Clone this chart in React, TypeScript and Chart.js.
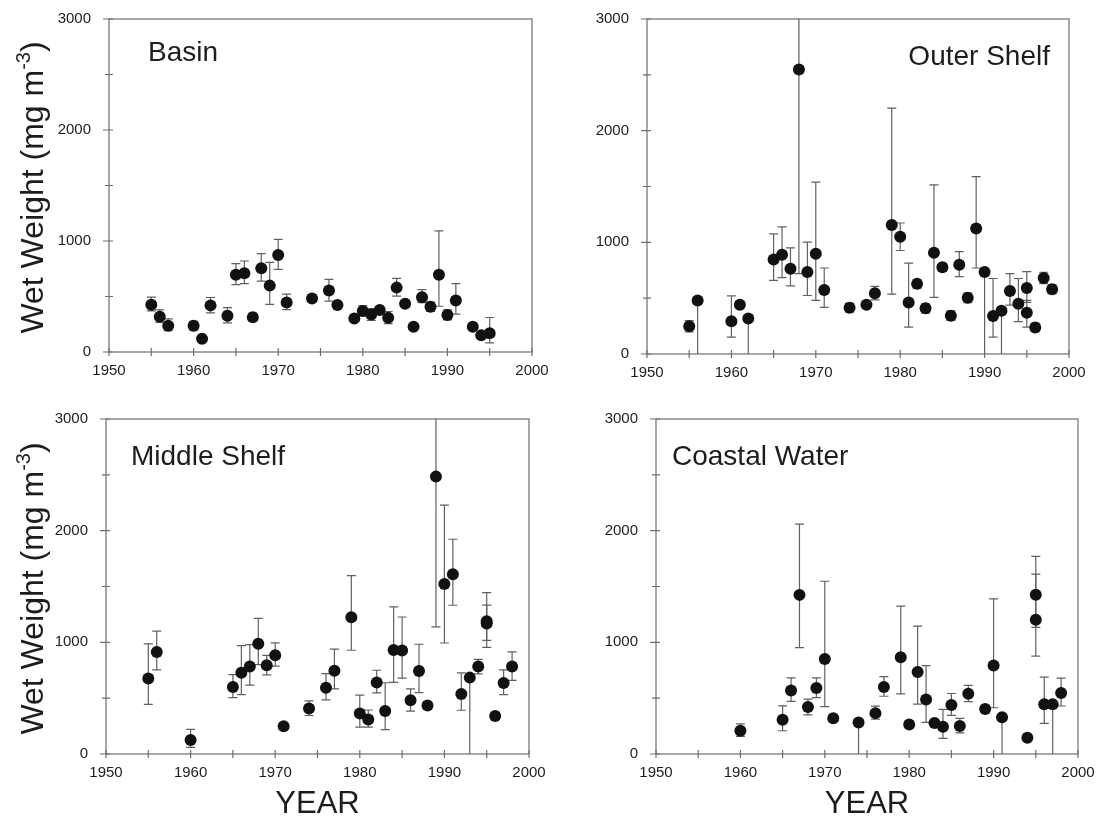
import React, { useEffect, useRef } from 'react';
import { Chart, registerables } from 'chart.js';

Chart.register(...registerables);

// ---------- DATA ----------
const basinYears = [1955, 1956, 1957, 1960, 1961, 1962, 1964, 1965, 1966, 1967, 1968, 1969, 1970, 1971, 1974, 1976, 1977, 1979, 1980, 1981, 1982, 1983, 1984, 1985, 1986, 1987, 1988, 1989, 1990, 1991, 1993, 1994, 1995];
const basinValues = [426, 317, 237, 237, 119, 420, 326, 695, 710, 314, 754, 598, 873, 447, 483, 554, 423, 302, 370, 337, 379, 308, 580, 435, 228, 494, 408, 695, 334, 465, 228, 151, 169];
const basinLow = [370, 266, 192, 197, 119, 352, 263, 607, 616, 280, 639, 429, 745, 381, 453, 458, 423, 302, 326, 285, 379, 255, 503, 435, 228, 444, 365, 412, 290, 341, 228, 151, 83];
const basinHigh = [494, 379, 298, 277, 119, 491, 400, 796, 820, 350, 887, 807, 1015, 521, 513, 654, 423, 302, 417, 392, 379, 365, 663, 435, 228, 562, 450, 1091, 380, 616, 228, 151, 311];

const outerYears = [1955, 1956, 1960, 1961, 1962, 1965, 1966, 1967, 1968, 1969, 1970, 1971, 1974, 1976, 1977, 1979, 1980, 1981, 1982, 1983, 1984, 1985, 1986, 1987, 1988, 1989, 1990, 1991, 1992, 1993, 1994, 1995, 1995, 1996, 1997, 1998];
const outerValues = [249, 480, 293, 441, 317, 847, 889, 764, 2548, 734, 898, 574, 414, 441, 545, 1156, 1049, 462, 628, 409, 907, 776, 343, 800, 503, 1123, 734, 340, 388, 565, 450, 592, 370, 237, 681, 580];
const outerLow = [199, -500, 151, 441, -500, 660, 684, 610, 720, 524, 480, 418, 374, 410, 485, 536, 927, 240, 590, 365, 507, 740, 300, 693, 460, 770, -500, 151, -500, 438, 290, 462, 240, 200, 630, 540];
const outerHigh = [299, 480, 521, 441, 317, 1075, 1138, 951, 3500, 1001, 1540, 770, 454, 472, 605, 2201, 1173, 814, 666, 450, 1514, 812, 386, 916, 546, 1588, 734, 676, 388, 720, 676, 738, 480, 274, 732, 620];

const middleYears = [1955, 1956, 1960, 1965, 1966, 1967, 1968, 1969, 1970, 1971, 1974, 1976, 1977, 1979, 1980, 1981, 1982, 1983, 1984, 1985, 1986, 1987, 1988, 1989, 1990, 1991, 1992, 1993, 1994, 1995, 1995, 1996, 1997, 1998];
const middleValues = [677, 914, 125, 600, 727, 784, 988, 795, 884, 249, 407, 594, 745, 1225, 362, 309, 641, 386, 932, 926, 481, 743, 434, 2484, 1522, 1609, 538, 684, 784, 1188, 1168, 341, 635, 784];
const middleLow = [445, 754, 60, 505, 532, 617, 801, 709, 787, 225, 345, 485, 584, 929, 240, 240, 548, 219, 641, 680, 384, 550, 400, 1139, 994, 1332, 392, -500, 718, 954, 1017, 310, 531, 659];
const middleHigh = [986, 1100, 220, 710, 971, 980, 1214, 884, 995, 275, 475, 720, 940, 1597, 528, 394, 750, 638, 1317, 1227, 583, 983, 470, 3500, 2229, 1923, 727, 684, 847, 1446, 1334, 372, 754, 914];

const coastalYears = [1960, 1965, 1966, 1967, 1968, 1969, 1970, 1971, 1974, 1976, 1977, 1979, 1980, 1981, 1982, 1983, 1984, 1985, 1986, 1987, 1989, 1990, 1991, 1994, 1995, 1995, 1996, 1997, 1998];
const coastalValues = [208, 306, 569, 1425, 420, 592, 851, 321, 282, 366, 601, 866, 265, 735, 488, 277, 244, 438, 250, 539, 402, 792, 330, 146, 1426, 1203, 446, 446, 546];
const coastalLow = [157, 208, 472, 952, 351, 505, 425, 290, -500, 312, 517, 538, 245, 446, 283, 260, 140, 346, 190, 469, 370, 414, -500, 125, 1134, 876, 274, -500, 430];
const coastalHigh = [270, 431, 681, 2059, 491, 681, 1547, 352, 282, 428, 693, 1324, 285, 1146, 792, 295, 399, 542, 319, 614, 435, 1390, 330, 167, 1770, 1611, 689, 446, 680];

const xMin = 1950;
const xMax = 2000;
const xStep = 5;
const xLabelEvery = 10;
const yMin = 0;
const yMax = 3000;
const yStep = 500;
const yLabelEvery = 1000;

const yTitleMain = 'Wet Weight (mg m';
const yTitleSup = '-3';
const yTitleEnd = ')';
const xTitle = 'YEAR';

// ---------- STYLE ----------
const FONT = '"Liberation Sans", Arial, Helvetica, sans-serif';
const TEXT = '#1d1d1d';
const AXIS = '#6e6e6e';
const ERR = '#606060';
const POINT = '#111111';

type Panel = {
  title: string;
  years: number[];
  values: number[];
  low: number[];
  high: number[];
  left: number;
  top: number;
  width: number;
  height: number;
  plot: { left: number; top: number; right: number; bottom: number };
  titleSide: 'left' | 'right';
  titleOffset: number;
  titleBase: number;
  showYTitle: boolean;
  showXTitle: boolean;
};

const panels: Panel[] = [
  {
    title: 'Basin', years: basinYears, values: basinValues, low: basinLow, high: basinHigh,
    left: 0, top: 0, width: 560, height: 400,
    plot: { left: 109, top: 15, right: 532, bottom: 352 },
    titleSide: 'left', titleOffset: 39, titleBase: 42, showYTitle: true, showXTitle: false,
  },
  {
    title: 'Outer Shelf', years: outerYears, values: outerValues, low: outerLow, high: outerHigh,
    left: 560, top: 0, width: 539, height: 400,
    plot: { left: 87, top: 17, right: 509, bottom: 354 },
    titleSide: 'right', titleOffset: 19, titleBase: 46, showYTitle: false, showXTitle: false,
  },
  {
    title: 'Middle Shelf', years: middleYears, values: middleValues, low: middleLow, high: middleHigh,
    left: 0, top: 400, width: 560, height: 429,
    plot: { left: 106, top: 17, right: 529, bottom: 354 },
    titleSide: 'left', titleOffset: 25, titleBase: 46, showYTitle: true, showXTitle: true,
  },
  {
    title: 'Coastal Water', years: coastalYears, values: coastalValues, low: coastalLow, high: coastalHigh,
    left: 560, top: 400, width: 539, height: 429,
    plot: { left: 96, top: 17, right: 518, bottom: 354 },
    titleSide: 'left', titleOffset: 16, titleBase: 46, showYTitle: false, showXTitle: true,
  },
];

function makePlugin(p: Panel) {
  return {
    id: 'panelDecor',
    beforeDatasetsDraw(chart: any) {
      const { ctx, chartArea, scales } = chart;
      const xs = scales.x;
      const ys = scales.y;
      ctx.save();
      ctx.beginPath();
      ctx.rect(chartArea.left, chartArea.top - 0.5, chartArea.right - chartArea.left, chartArea.bottom - chartArea.top + 0.5);
      ctx.clip();
      ctx.strokeStyle = ERR;
      ctx.lineWidth = 1.2;
      const cap = 4.5;
      p.years.forEach((yr, i) => {
        const x = xs.getPixelForValue(yr);
        const yl = ys.getPixelForValue(p.low[i]);
        const yh = ys.getPixelForValue(p.high[i]);
        ctx.beginPath();
        ctx.moveTo(x, yl);
        ctx.lineTo(x, yh);
        if (p.low[i] < p.values[i]) {
          ctx.moveTo(x - cap, yl);
          ctx.lineTo(x + cap, yl);
        }
        if (p.high[i] > p.values[i]) {
          ctx.moveTo(x - cap, yh);
          ctx.lineTo(x + cap, yh);
        }
        ctx.stroke();
      });
      ctx.restore();
    },
    afterDraw(chart: any) {
      const { ctx, chartArea, scales } = chart;
      const xs = scales.x;
      const ys = scales.y;
      const { left, top, right, bottom } = chartArea;
      ctx.save();
      ctx.strokeStyle = AXIS;
      ctx.lineWidth = 1.2;
      ctx.strokeRect(left, top, right - left, bottom - top);
      ctx.beginPath();
      xs.ticks.forEach((t: any) => {
        const x = xs.getPixelForValue(t.value);
        ctx.moveTo(x, bottom - 4);
        ctx.lineTo(x, bottom + 4);
      });
      ys.ticks.forEach((t: any) => {
        const y = ys.getPixelForValue(t.value);
        const major = t.value % yLabelEvery === 0;
        ctx.moveTo(left - (major ? 6 : 4), y);
        ctx.lineTo(left + 4, y);
      });
      ctx.stroke();

      // panel title
      ctx.fillStyle = TEXT;
      ctx.font = `28px ${FONT}`;
      ctx.textBaseline = 'alphabetic';
      if (p.titleSide === 'left') {
        ctx.textAlign = 'left';
        ctx.fillText(p.title, left + p.titleOffset, top + p.titleBase);
      } else {
        ctx.textAlign = 'right';
        ctx.fillText(p.title, right - p.titleOffset, top + p.titleBase);
      }

      // y title with superscript
      if (p.showYTitle) {
        const cy = (top + bottom) / 2 + 2;
        ctx.save();
        ctx.translate(43, cy);
        ctx.rotate(-Math.PI / 2);
        ctx.textAlign = 'left';
        ctx.font = `32px ${FONT}`;
        const w1 = ctx.measureText(yTitleMain).width;
        const w3 = ctx.measureText(yTitleEnd).width;
        ctx.font = `20px ${FONT}`;
        const w2 = ctx.measureText(yTitleSup).width;
        const total = w1 + w2 + w3;
        let x0 = -total / 2;
        ctx.font = `32px ${FONT}`;
        ctx.fillText(yTitleMain, x0, 0);
        x0 += w1;
        ctx.font = `20px ${FONT}`;
        ctx.fillText(yTitleSup, x0, -13);
        x0 += w2;
        ctx.font = `32px ${FONT}`;
        ctx.fillText(yTitleEnd, x0, 0);
        ctx.restore();
      }

      if (p.showXTitle) {
        ctx.font = `31px ${FONT}`;
        ctx.textAlign = 'center';
        ctx.fillText(xTitle, (left + right) / 2, bottom + 59);
      }
      ctx.restore();
    },
  };
}

function PanelChart({ p }: { p: Panel }) {
  const ref = useRef<HTMLCanvasElement>(null);
  useEffect(() => {
    const canvas = ref.current;
    if (!canvas) return;
    const chart = new Chart(canvas, {
      type: 'scatter',
      data: {
        datasets: [
          {
            data: p.years.map((x, i) => ({ x, y: p.values[i] })),
            pointRadius: 6,
            pointHoverRadius: 6,
            backgroundColor: POINT,
            borderWidth: 0,
          },
        ],
      },
      options: {
        animation: false,
        responsive: false,
        maintainAspectRatio: false,
        events: [],
        layout: { padding: { left: 0, top: p.plot.top, right: p.width - p.plot.right, bottom: 0 } },
        plugins: { legend: { display: false }, tooltip: { enabled: false } },
        scales: {
          x: {
            type: 'linear',
            min: xMin,
            max: xMax,
            afterFit: (s: any) => { s.height = p.height - p.plot.bottom; },
            grid: { display: false },
            border: { display: false },
            ticks: {
              stepSize: xStep,
              autoSkip: false,
              maxRotation: 0,
              padding: 2,
              color: TEXT,
              font: { family: FONT, size: 15 },
              callback: (v: any) => (Number(v) % xLabelEvery === 0 ? String(v) : ''),
            },
          },
          y: {
            type: 'linear',
            min: yMin,
            max: yMax,
            afterFit: (s: any) => { s.width = p.plot.left; },
            grid: { display: false },
            border: { display: false },
            ticks: {
              stepSize: yStep,
              autoSkip: false,
              padding: 10,
              color: TEXT,
              font: { family: FONT, size: 15 },
              callback: (v: any) => (Number(v) % yLabelEvery === 0 ? String(v) : ''),
            },
          },
        },
      } as any,
      plugins: [makePlugin(p)],
    });
    return () => chart.destroy();
  }, [p]);
  return (
    <canvas
      ref={ref}
      width={p.width}
      height={p.height}
      style={{ position: 'absolute', left: p.left, top: p.top, width: p.width, height: p.height }}
    />
  );
}

export default function App() {
  return (
    <div style={{ position: 'fixed', left: 0, top: 0, width: 1099, height: 829, background: '#fff' }}>
      {panels.map((p) => (
        <PanelChart key={p.title} p={p} />
      ))}
    </div>
  );
}
